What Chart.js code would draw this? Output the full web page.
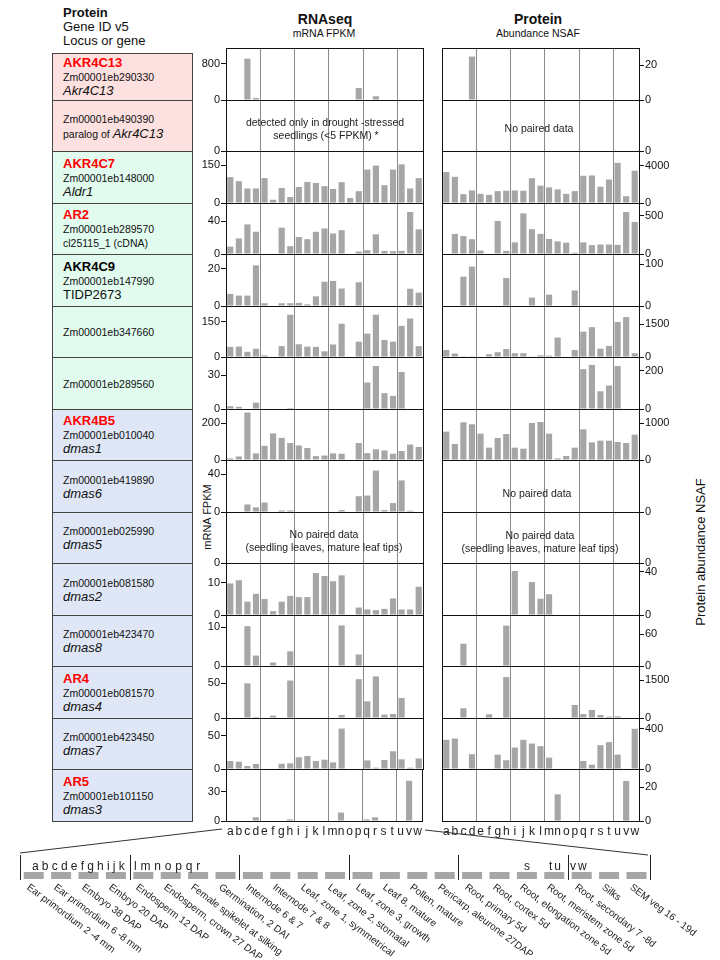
<!DOCTYPE html>
<html>
<head>
<meta charset="utf-8">
<title>AKR expression RNAseq / Protein</title>
<script src="https://cdn.jsdelivr.net/npm/chart.js@4.4.1/dist/chart.umd.min.js"></script>
<style>
body { margin: 0; background: #fff; }
#page { position: relative; width: 720px; height: 960px; overflow: hidden; font-family: "Liberation Sans", Arial, sans-serif; color: #111; }
#page canvas { position: absolute; }
.t { position: absolute; white-space: nowrap; line-height: 1; }
.c { transform: translate(-50%, -50%); text-align: center; }
.msg { font-size: 10.5px; color: #222; }
.box { position: absolute; left: 52px; width: 141px; box-sizing: border-box; border: 1px solid #444; display: flex; flex-direction: column; justify-content: center; padding-left: 10px; line-height: 14px; white-space: nowrap; }
.box .pn { font-weight: bold; font-size: 13px; color: #ff0000; }
.box .pn.black { color: #000; }
.box .id { font-size: 10.5px; }
.box .loc { font-size: 13px; font-style: italic; }
.box .small { font-size: 10.5px; font-style: normal; }
.box .up { font-style: normal; }
.tissue { position: absolute; font-size: 10px; white-space: nowrap; transform-origin: 0 0; transform: rotate(37deg); color: #222; line-height: 1; }
.vert { position: absolute; white-space: nowrap; line-height: 1; transform: translate(-50%, -50%) rotate(-90deg); }
svg { position: absolute; left: 0; top: 0; }
</style>
</head>
<body>
<div id="page">
  <div class="t" style="left:63px;top:6px;font-size:13px;font-weight:bold">Protein</div>
  <div class="t" style="left:63px;top:20px;font-size:13px">Gene ID v5</div>
  <div class="t" style="left:63px;top:34px;font-size:13px">Locus or gene</div>
  <div class="t c" style="left:325px;top:19px;font-size:14px;font-weight:bold">RNAseq</div>
  <div class="t c" style="left:324px;top:33px;font-size:10.5px">mRNA FPKM</div>
  <div class="t c" style="left:538px;top:19px;font-size:14px;font-weight:bold">Protein</div>
  <div class="t c" style="left:538px;top:33px;font-size:10.5px">Abundance NSAF</div>
  <div class="vert" style="left:207px;top:517px;font-size:11px">mRNA FPKM</div>
  <div class="vert" style="left:700px;top:552px;font-size:13px">Protein abundance NSAF</div>
</div>
<script>
const $page = document.querySelector("#page")
const family = '"Liberation Sans", Arial, sans-serif'

const letters = "abcdefghijklmnopqrstuvw".split("")
const tissues = [
    "Ear primordium 2 -4 mm", "Ear primordium 6 -8 mm", "Embryo 38 DAP", "Embryo 20 DAP",
    "Endosperm 12 DAP", "Endosperm, crown 27 DAP", "Female spikelet at silking", "Germination, 2 DAI",
    "Internode 6 & 7", "Internode 7 & 8", "Leaf, zone 1, symmetrical", "Leaf, zone 2, stomatal",
    "Leaf, zone 3, growth", "Leaf 8, mature", "Pollen, mature", "Pericarp, aleurone 27DAP",
    "Root, primary 5d", "Root, cortex 5d", "Root, elongation zone 5d", "Root, meristem zone 5d",
    "Root, secondary 7 -8d", "Silks", "SEM veg 16 - 19d"
]

const proteinNames = ["AKR4C13", "", "AKR4C7", "AR2", "AKR4C9", "", "", "AKR4B5", "", "", "", "", "AR4", "", "AR5"]
const geneIds = ["Zm00001eb290330", "Zm00001eb490390", "Zm00001eb148000", "Zm00001eb289570", "Zm00001eb147990",
    "Zm00001eb347660", "Zm00001eb289560", "Zm00001eb010040", "Zm00001eb419890", "Zm00001eb025990",
    "Zm00001eb081580", "Zm00001eb423470", "Zm00001eb081570", "Zm00001eb423450", "Zm00001eb101150"]
const loci = ["Akr4C13", "paralog of Akr4C13", "Aldr1", "cl25115_1 (cDNA)", "TIDP2673", "", "", "dmas1",
    "dmas6", "dmas5", "dmas2", "dmas8", "dmas4", "dmas7", "dmas3"]

// mRNA FPKM, tissues a..w
const rna01 = [0, 0, 913, 45, 0, 0, 0, 0, 0, 0, 0, 0, 0, 0, 0, 264, 0, 83, 0, 0, 0, 0, 0]
const rna02 = null
const rna03 = [103, 87, 58, 58, 99, 13, 60, 24, 64, 84, 80, 67, 56, 83, 20, 47, 133, 149, 71, 133, 154, 58, 99]
const rna04 = [9, 19, 36, 27, 0, 0, 32, 9.5, 20.6, 18, 27, 31, 25, 29, 0, 3, 4.6, 24, 3.8, 3.4, 3.8, 51, 30]
const rna05 = [6.5, 5.6, 5.6, 21.9, 1.5, 0, 1.5, 1.5, 1.7, 0.9, 5.2, 13.1, 13.5, 9.4, 0, 12.8, 0, 0, 0, 0, 0, 9.3, 7.2]
const rna06 = [43, 44, 22, 35, 7, 0, 46, 179, 54, 44, 43, 24, 53, 141, 0, 65, 99, 179, 72, 65, 132, 163, 46]
const rna07 = [2.5, 1.9, 0, 5.6, 0, 0, 0, 0.9, 0, 0, 0, 0, 0, 0, 0, 0, 23.4, 38, 14, 11.6, 32.8, 0, 0]
const rna08 = [9, 19, 258, 36, 77, 144, 120, 92, 79, 65, 21, 24, 36, 34, 0, 92, 37, 58, 52, 34, 49, 84, 71]
const rna09 = [0, 0, 8, 4.9, 10, 0, 1.7, 1.7, 0, 0, 0, 0, 0, 2, 0, 16.7, 17.4, 43.8, 2, 9.4, 33.4, 1.4, 0]
const rna10 = null
const rna11 = [9.7, 10.7, 4.1, 6.5, 4.9, 1.2, 4.1, 5.9, 5.5, 5.5, 12.9, 12, 10.4, 12.2, 0, 2.3, 1.7, 1.5, 1.9, 5.1, 1.7, 1.7, 8.7]
const rna12 = [0, 0, 10.3, 2.7, 0, 0.9, 0, 3.8, 0, 0, 0, 0, 0, 10.5, 0, 3, 0, 0, 0, 0, 0, 0, 0]
const rna13 = [0, 0, 50, 1.5, 0, 3.4, 0, 54, 0, 0, 0, 0, 0, 4.4, 0, 56, 24, 60, 4.9, 5.8, 29, 0, 0]
const rna14 = [12, 11, 4.5, 7.6, 0, 0, 8, 8.6, 17.7, 19.7, 12, 14, 10, 61, 0, 0, 13, 2, 13.6, 26.8, 14.6, 2, 16]
const rna15 = [0, 0, 0, 3.8, 0, 0, 0, 1.7, 0, 0, 0, 0, 0, 8.6, 0, 0, 1.7, 3.8, 0, 0, 0, 41, 0]

// protein NSAF, tissues a..w
const prot01 = [0, 0, 0, 24.9, 0, 0, 0, 0, 0, 0, 0, 0, 0, 0, 0, 0, 0, 0, 0, 0, 0, 0, 0]
const prot02 = null
const prot03 = [3310, 2800, 945, 1345, 980, 870, 1270, 1310, 1345, 1310, 2650, 1855, 1670, 1455, 980, 1270, 2910, 2945, 1745, 2510, 4290, 727, 3455]
const prot04 = [0, 264, 235, 194, 45, 0, 434, 41, 153, 533, 326, 264, 198, 165, 149, 17, 153, 116, 124, 124, 120, 550, 421]
const prot05 = [0, 0, 70, 94, 0, 0, 0, 67, 0, 0, 20, 0, 27, 0, 0, 37, 0, 0, 0, 0, 0, 0, 0]
const prot06 = [316, 158, 10, 10, 0, 126, 221, 363, 174, 174, 16, 79, 63, 884, 0, 316, 1153, 1358, 379, 505, 1595, 1816, 174]
const prot07 = [0, 0, 0, 0, 0, 0, 0, 0, 0, 0, 0, 0, 0, 0, 0, 0, 207, 229, 92, 122, 223, 0, 0]
const prot08 = [773, 436, 1027, 973, 718, 336, 600, 709, 336, 309, 1009, 1036, 718, 45, 109, 336, 836, 482, 527, 527, 491, 464, 691]
const prot09 = null
const prot10 = null
const prot11 = [0, 0, 0, 0, 0, 0, 0, 0, 40.6, 0, 30.4, 15, 19.2, 0, 0, 0, 0, 0, 0, 0, 0, 0, 0]
const prot12 = [0, 0, 42, 0, 0, 0, 0, 76, 0, 0, 0, 0, 0, 0, 0, 0, 0, 0, 0, 0, 0, 0, 0]
const prot13 = [0, 0, 385, 0, 0, 146, 0, 1619, 0, 0, 0, 0, 0, 0, 0, 518, 159, 319, 119, 53, 66, 0, 0]
const prot14 = [290, 303, 0, 147, 0, 0, 143, 87, 213, 290, 253, 227, 113, 0, 0, 0, 80, 43, 237, 267, 143, 0, 400]
const prot15 = [0, 0, 0, 0, 0, 0, 0, 0, 0, 0, 0, 0, 0, 15.9, 0, 0, 0, 0, 0, 0, 0, 23.9, 0]

const rnaRows = [rna01, rna02, rna03, rna04, rna05, rna06, rna07, rna08, rna09, rna10, rna11, rna12, rna13, rna14, rna15]
const protRows = [prot01, prot02, prot03, prot04, prot05, prot06, prot07, prot08, prot09, prot10, prot11, prot12, prot13, prot14, prot15]

// axis labels and ranges of each little chart
const rnaTicks = [800, null, 150, 40, 20, 150, 30, 200, 40, null, 10, 10, 50, 50, 30]
const rnaMax = [1150, 1, 207, 62, 28, 216, 46, 277, 55, 1, 16, 13.2, 75, 77, 53]
const protTicks = [20, null, 4000, 500, 100, 1500, 200, 1000, null, null, 40, 60, 1500, 400, 20]
const protMax = [29.8, 1, 5560, 669, 124, 2321, 270, 1390, 1, 1, 48, 96, 2058, 507, 31]

const groupEdges = [4, 8, 12, 16, 20]

const rowY = (i) => Math.round(48 + i * 51.5)

// black box round every plot area
const frame = {
    id: "frame",
    afterDraw(chart) {
        const { ctx, chartArea: a } = chart
        ctx.save()
        ctx.strokeStyle = "#111"
        ctx.lineWidth = 1
        ctx.strokeRect(Math.round(a.left) + 0.5, Math.round(a.top) + 0.5, Math.round(a.right - a.left), Math.round(a.bottom - a.top))
        ctx.restore()
    }
}

const drawPanel = (values, max, tick, row, side) => {
    const last = row === 14
    const top = rowY(row)
    const h = rowY(row + 1) - top
    const padTop = 8
    const padBottom = last ? 0 : 8
    const xH = last ? 17 : 0
    const axisW = 40
    const w = axisW + 197 + 2
    const left = side === "left" ? 226 - axisW : 442 - 2
    const $canvas = document.createElement("canvas")
    $canvas.width = w
    $canvas.height = h + padTop + padBottom + xH
    $canvas.style.left = left + "px"
    $canvas.style.top = (top - padTop) + "px"
    $canvas.style.width = w + "px"
    $canvas.style.height = $canvas.height + "px"
    $page.appendChild($canvas)

    new Chart($canvas, {
        type: "bar",
        data: {
            labels: letters,
            datasets: [{
                data: values || [],
                backgroundColor: "#a6a6a6",
                barPercentage: 0.72,
                categoryPercentage: 1
            }]
        },
        options: {
            responsive: false,
            animation: false,
            devicePixelRatio: 1,
            layout: { padding: { top: padTop, bottom: padBottom, left: side === "left" ? 0 : 2, right: side === "left" ? 2 : 0 } },
            plugins: { legend: { display: false }, tooltip: { enabled: false } },
            scales: {
                x: {
                    offset: true,
                    grid: {
                        offset: true,
                        drawTicks: false,
                        color: (c) => groupEdges.includes(c.index) ? "#8a8a8a" : "rgba(0,0,0,0)"
                    },
                    border: { display: false },
                    ticks: { display: last, autoSkip: false, maxRotation: 0, padding: 3, color: "#222", font: { size: 12, family } },
                    afterFit: (axis) => { axis.height = xH }
                },
                y: {
                    position: side,
                    min: 0,
                    max: max,
                    afterBuildTicks: (axis) => {
                        axis.ticks = tick ? [{ value: 0 }, { value: tick }] : [{ value: 0 }]
                    },
                    grid: { drawOnChartArea: false, drawTicks: true, tickLength: 5, tickColor: "#111" },
                    border: { display: false },
                    ticks: { padding: 1, color: "#111", font: { size: 11, family }, callback: (v) => String(v) },
                    afterFit: (axis) => { axis.width = axisW }
                }
            }
        },
        plugins: [frame]
    })
}

// gene boxes on the left
const renderBoxes = () => {
    const $fragment = document.createDocumentFragment()
    geneIds.forEach((id, i) => {
        const $box = document.createElement("div")
        $box.className = "box"
        const top = i === 0 ? 53 : rowY(i)
        $box.style.top = top + "px"
        $box.style.height = (rowY(i + 1) - top + 1) + "px"
        $box.style.background = i < 2 ? "#fde0e0" : i < 7 ? "#e1fbef" : "#dfe7f6"
        let html = ""
        if (proteinNames[i]) {
            html += `<div class="pn${proteinNames[i] === "AKR4C9" ? " black" : ""}">${proteinNames[i]}</div>`
        }
        html += `<div class="id">${id}</div>`
        const loc = loci[i]
        if (loc.startsWith("paralog of ")) {
            html += `<div><span class="small">paralog of </span><span class="loc">${loc.slice(11)}</span></div>`
        } else if (loc.startsWith("cl")) {
            html += `<div class="small">${loc}</div>`
        } else if (loc.startsWith("TIDP")) {
            html += `<div class="loc up">${loc}</div>`
        } else if (loc) {
            html += `<div class="loc">${loc}</div>`
        }
        $box.innerHTML = html
        $fragment.appendChild($box)
    })
    $page.appendChild($fragment)
}

// messages for rows without paired data
const notes = [
    ["detected only in drought -stressed", 325, 122],
    ["seedlings (&lt;5 FPKM) *", 326, 135],
    ["No paired data", 539, 128],
    ["No paired data", 537, 493],
    ["No paired data", 324, 534],
    ["(seedling leaves, mature leaf tips)", 324, 547],
    ["No paired data", 540, 535],
    ["(seedling leaves, mature leaf tips)", 540, 548]
]

const renderNotes = () => {
    notes.forEach(([text, x, y]) => {
        const $d = document.createElement("div")
        $d.className = "t c msg"
        $d.style.left = x + "px"
        $d.style.top = y + "px"
        $d.innerHTML = text
        $page.appendChild($d)
    })
}

// tissue key at the bottom
const renderKey = () => {
    const x0 = 20
    const slot = 27.4
    let svg = `<svg width="720" height="960">`
    svg += `<line x1="222" y1="829" x2="20" y2="853" stroke="#333" stroke-width="1"/>`
    svg += `<line x1="425" y1="830" x2="648" y2="855" stroke="#333" stroke-width="1"/>`
    const seps = [0, 4, 8, 12, 16, 20, 23]
    seps.forEach((k) => {
        const x = Math.round(x0 + k * slot) + 0.5
        svg += `<line x1="${x}" y1="855" x2="${x}" y2="880" stroke="#222" stroke-width="1"/>`
    })
    tissues.forEach((t, i) => {
        const cx = x0 + slot * (i + 0.5)
        svg += `<rect x="${cx - 10}" y="872" width="20" height="7" fill="#a6a6a6"/>`
    })
    svg += `</svg>`
    $page.insertAdjacentHTML("beforeend", svg)

    const keyLetters = [["abcdefghijk", 32, 3.2], ["lmnopqr", 134, 3.8], ["s", 524, 0], ["tu", 549, 2], ["vw", 570, 2]]
    keyLetters.forEach(([text, x, sp]) => {
        const $d = document.createElement("div")
        $d.className = "t"
        $d.style.cssText = `left:${x}px;top:860px;font-size:12px;letter-spacing:${sp}px;color:#222`
        $d.textContent = text
        $page.appendChild($d)
    })

    tissues.forEach((t, i) => {
        const $d = document.createElement("div")
        $d.className = "tissue"
        $d.style.left = (x0 + slot * (i + 0.5) - 3) + "px"
        $d.style.top = "882px"
        $d.textContent = t
        $page.appendChild($d)
    })
}

renderBoxes()
rnaRows.forEach((v, i) => drawPanel(v, rnaMax[i], rnaTicks[i], i, "left"))
protRows.forEach((v, i) => drawPanel(v, protMax[i], protTicks[i], i, "right"))
renderNotes()
renderKey()
</script>
</body>
</html>
